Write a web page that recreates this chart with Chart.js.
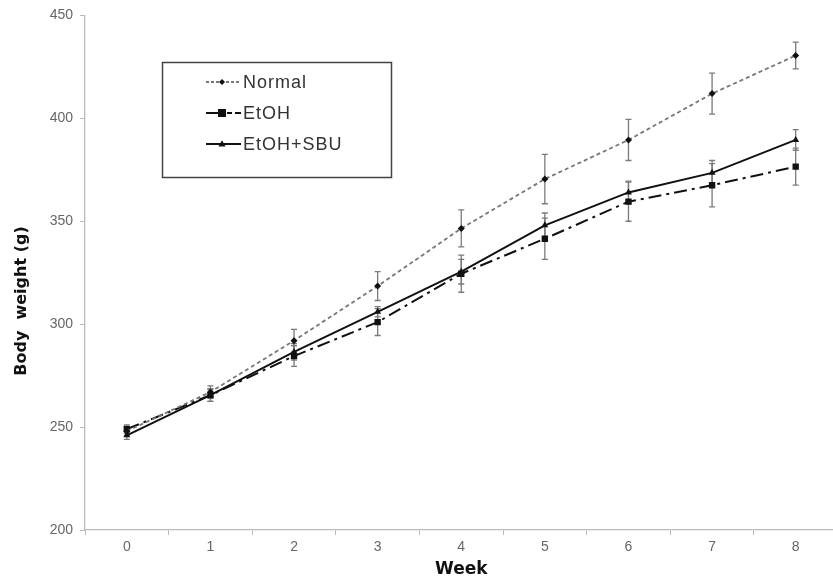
<!DOCTYPE html>
<html>
<head>
<meta charset="utf-8">
<title>Body weight</title>
<script src="https://cdn.jsdelivr.net/npm/chart.js@4.4.0/dist/chart.umd.min.js"></script>
<style>
  html, body { margin: 0; padding: 0; background: #fff; overflow: hidden; }
  #wrap { width: 842px; height: 582px; }
</style>
</head>
<body>
<div id="wrap"><canvas id="weightChart"></canvas></div>
<script>
// Data (g)
const weeks = [0, 1, 2, 3, 4, 5, 6, 7, 8];
const normal = [248, 267, 292, 318.5, 346.5, 370.5, 389.5, 412, 430.5];
const normalSd = [2, 3, 5.5, 7, 9, 12, 10, 10, 6.5];
const etoh = [249, 265.5, 284.5, 301, 324.5, 341.5, 359.5, 367.5, 376.5];
const etohSd = [2, 3, 5, 6.5, 9, 10, 9.5, 10.5, 9];
const sbu = [246, 265.5, 286.5, 306, 325.5, 348, 364, 373.5, 389.5];
const sbuSd = [2, 3, 4, 2.5, 6, 6, 5.5, 6, 5];
const yTicks = [200, 250, 300, 350, 400, 450];

const toPoints = (vals) => weeks.map((w, i) => ({ x: w, y: vals[i] }));

// error bars drawn behind the lines
const errorBars = {
  id: "errorBars",
  beforeDatasetsDraw(chart) {
    const { ctx, scales: { x, y } } = chart;
    ctx.save();
    ctx.strokeStyle = "#7a7a7a";
    ctx.lineWidth = 1.3;
    chart.data.datasets.forEach((ds) => {
      ds.data.forEach((p, i) => {
        const px = x.getPixelForValue(p.x);
        const top = y.getPixelForValue(p.y + ds.sd[i]);
        const bot = y.getPixelForValue(p.y - ds.sd[i]);
        ctx.beginPath();
        ctx.moveTo(px, top); ctx.lineTo(px, bot);
        ctx.moveTo(px - 3, top); ctx.lineTo(px + 3, top);
        ctx.moveTo(px - 3, bot); ctx.lineTo(px + 3, bot);
        ctx.stroke();
      });
    });
    ctx.restore();
  },
};

function drawMarker(ctx, style, cx, cy, r, color) {
  ctx.fillStyle = color;
  ctx.beginPath();
  if (style === "rect") {
    ctx.rect(cx - r, cy - r, 2 * r, 2 * r);
  } else if (style === "triangle") {
    ctx.moveTo(cx, cy - r * 1.1);
    ctx.lineTo(cx + r, cy + r * 0.7);
    ctx.lineTo(cx - r, cy + r * 0.7);
    ctx.closePath();
  } else {
    ctx.moveTo(cx, cy - r); ctx.lineTo(cx + r, cy);
    ctx.lineTo(cx, cy + r); ctx.lineTo(cx - r, cy);
    ctx.closePath();
  }
  ctx.fill();
}

// boxed legend inside the plot, plus the y axis title
const boxLegend = {
  id: "boxLegend",
  afterDraw(chart) {
    const ctx = chart.ctx;
    ctx.save();
    ctx.strokeStyle = "#444";
    ctx.lineWidth = 1.5;
    ctx.strokeRect(162.5, 62.5, 229, 115);
    ctx.font = "18px 'Liberation Sans', Arial, sans-serif";
    ctx.letterSpacing = "1px";
    ctx.textBaseline = "middle";
    chart.data.datasets.forEach((ds, i) => {
      const cy = 82 + i * 31;
      ctx.strokeStyle = ds.borderColor;
      ctx.lineWidth = ds.borderWidth;
      ctx.setLineDash(ds.legendDash);
      ctx.beginPath();
      ctx.moveTo(206, cy); ctx.lineTo(241, cy);
      ctx.stroke();
      ctx.setLineDash([]);
      drawMarker(ctx, ds.pointStyle, 222, cy, ds.pointRadius - 0.5, "#111");
      ctx.fillStyle = "#333";
      ctx.fillText(ds.label, 243, cy + 1);
    });
    ctx.letterSpacing = "0px";

    ctx.fillStyle = "#111";
    ctx.font = "bold 16px 'DejaVu Sans', sans-serif";
    ctx.textAlign = "center";
    ctx.translate(22, 301);
    ctx.rotate(-Math.PI / 2);
    ctx.fillText("Body  weight (g)", 0, 0);
    ctx.restore();
  },
};

const ctx = document.getElementById("weightChart");

new Chart(ctx, {
  type: "line",
  data: {
    datasets: [
      {
        label: "Normal",
        data: toPoints(normal),
        sd: normalSd,
        borderColor: "#777",
        borderWidth: 1.8,
        borderDash: [4, 3],
        legendDash: [3, 2],
        pointStyle: "rectRot",
        pointRadius: 3.5,
        pointBackgroundColor: "#111",
        pointBorderWidth: 0,
      },
      {
        label: "EtOH",
        data: toPoints(etoh),
        sd: etohSd,
        borderColor: "#111",
        borderWidth: 2,
        borderDash: [13, 5, 3, 5],
        legendDash: [16, 5, 5, 3],
        pointStyle: "rect",
        pointRadius: 4.5,
        pointBackgroundColor: "#111",
        pointBorderWidth: 0,
      },
      {
        label: "EtOH+SBU",
        data: toPoints(sbu),
        sd: sbuSd,
        borderColor: "#111",
        borderWidth: 2,
        borderDash: [],
        legendDash: [],
        pointStyle: "triangle",
        pointRadius: 4,
        pointBackgroundColor: "#111",
        pointBorderWidth: 0,
      },
    ],
  },
  options: {
    responsive: true,
    maintainAspectRatio: false,
    animation: false,
    layout: { padding: { top: 14, right: 0, left: 0, bottom: 0 } },
    plugins: {
      legend: { display: false },
      tooltip: { enabled: false },
    },
    scales: {
      x: {
        type: "linear",
        min: -0.5,
        max: 8.5,
        afterFit: (scale) => { scale.height = 52; },
        border: { color: "#bbb", width: 1.3 },
        grid: {
          drawOnChartArea: false,
          tickLength: 5,
          color: (c) => (Number.isInteger(c.tick.value) ? "rgba(0,0,0,0)" : "#bbb"),
        },
        ticks: {
          stepSize: 0.5,
          autoSkip: false,
          maxRotation: 0,
          padding: 4,
          color: "#666",
          font: { family: "'Liberation Sans', Arial, sans-serif", size: 14 },
          callback: (v) => (Number.isInteger(v) && weeks.includes(v) ? String(v) : ""),
        },
        title: {
          display: true,
          text: "Week",
          color: "#111",
          font: { family: "'DejaVu Sans', sans-serif", size: 17, weight: "bold" },
          padding: { top: 0, bottom: 2 },
        },
      },
      y: {
        min: 200,
        max: 450,
        afterFit: (scale) => { scale.width = 85; },
        afterBuildTicks: (scale) => { scale.ticks = yTicks.map((v) => ({ value: v })); },
        border: { color: "#bbb", width: 1.3 },
        grid: { drawOnChartArea: false, tickLength: 5, color: "#bbb" },
        ticks: {
          padding: 7,
          color: "#666",
          font: { family: "'Liberation Sans', Arial, sans-serif", size: 14 },
        },
      },
    },
  },
  plugins: [errorBars, boxLegend],
});
</script>
</body>
</html>
